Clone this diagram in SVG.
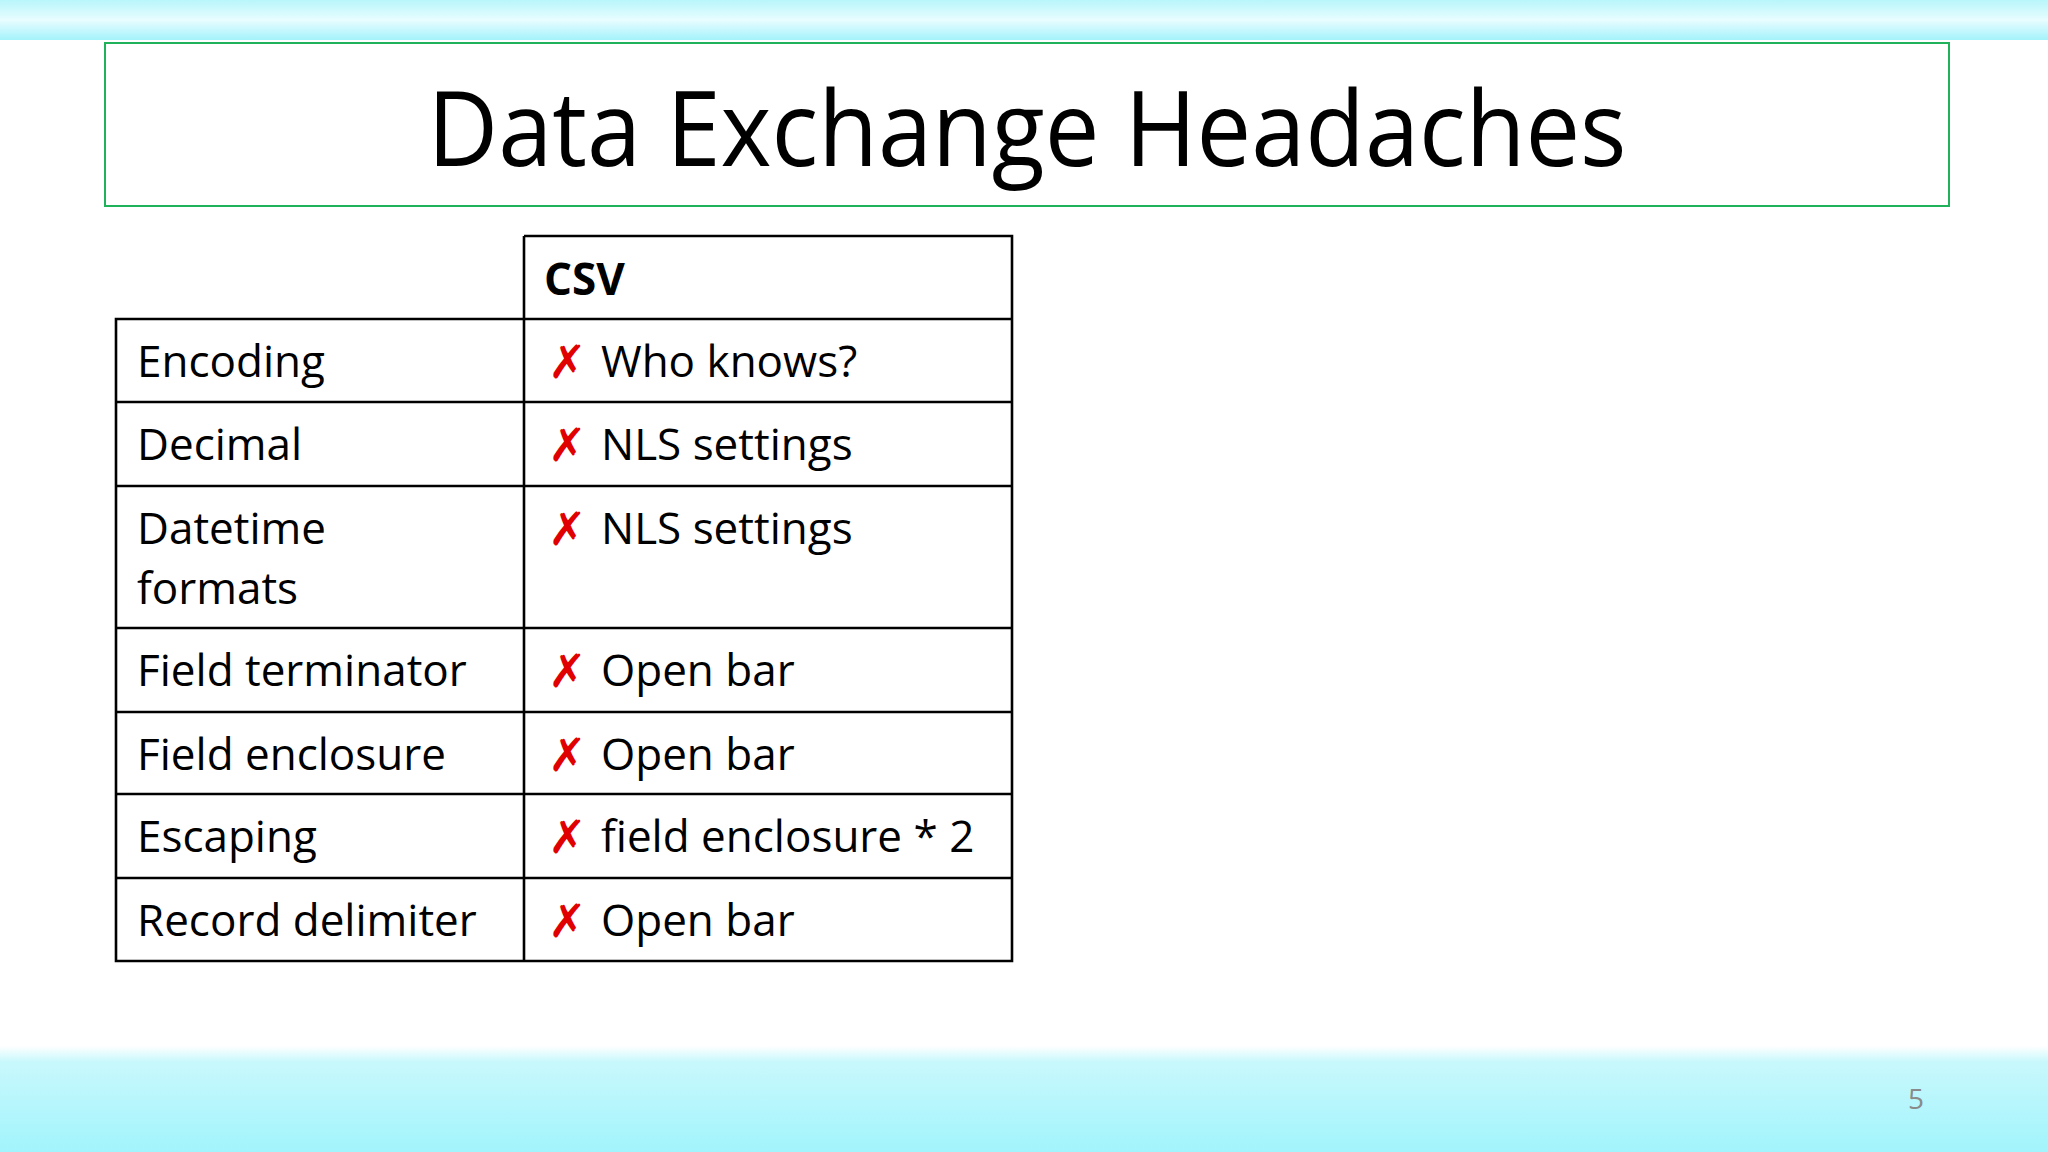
<svg xmlns="http://www.w3.org/2000/svg" width="2048" height="1152" viewBox="0 0 2048 1152">
<defs>
<linearGradient id="top" x1="0" y1="0" x2="0" y2="1"><stop offset="0" stop-color="#b8f6fb"/><stop offset="0.5" stop-color="#e8fdff"/><stop offset="1" stop-color="#a4f3fb"/></linearGradient>
<linearGradient id="bot" x1="0" y1="0" x2="0" y2="1"><stop offset="0" stop-color="#ffffff"/><stop offset="0.15" stop-color="#c8f8fc"/><stop offset="1" stop-color="#a2f4fc"/></linearGradient>
<style>
.t{font-family:"Open Sans","Liberation Sans",sans-serif;font-size:44px;fill:#000}
.x{font-family:"DejaVu Sans",sans-serif;font-size:46px;fill:#e00000;font-weight:300}
.l{stroke:#000;stroke-width:2.6;fill:none}
</style>
</defs>
<rect width="2048" height="1152" fill="#fff"/>
<rect width="2048" height="40" fill="url(#top)"/>
<rect y="1046" width="2048" height="106" fill="url(#bot)"/>
<g id="title">
<rect x="105" y="43" width="1844" height="163" fill="none" stroke="#1fb25a" stroke-width="2"/>
<text x="1027" y="166" text-anchor="middle" font-family="Open Sans, Liberation Sans, sans-serif" font-size="104" textLength="1199" lengthAdjust="spacingAndGlyphs">Data Exchange Headaches</text>
</g>
<g id="table">
<path class="l" d="M524 236H1012V961H116V319H1012M524 236V961M116 402H1012M116 486H1012M116 628H1012M116 712H1012M116 794H1012M116 878H1012"/>
<text class="t" x="544" y="295" font-weight="bold">CSV</text>
<g class="t">
<text x="137" y="377">Encoding</text>
<text x="137" y="460">Decimal</text>
<text x="137" y="544">Datetime</text>
<text x="137" y="604">formats</text>
<text x="137" y="686">Field terminator</text>
<text x="137" y="770">Field enclosure</text>
<text x="137" y="852">Escaping</text>
<text x="137" y="936">Record delimiter</text>
<text x="601" y="377">Who knows?</text>
<text x="601" y="460">NLS settings</text>
<text x="601" y="544">NLS settings</text>
<text x="601" y="686">Open bar</text>
<text x="601" y="770">Open bar</text>
<text x="601" y="852">field enclosure * 2</text>
<text x="601" y="936">Open bar</text>
</g>
<g class="x">
<text x="548" y="378">✗</text>
<text x="548" y="461">✗</text>
<text x="548" y="545">✗</text>
<text x="548" y="687">✗</text>
<text x="548" y="771">✗</text>
<text x="548" y="853">✗</text>
<text x="548" y="937">✗</text>
</g>
</g>
<text x="1908" y="1109" font-family="Open Sans, Liberation Sans, sans-serif" font-size="28" fill="#8a8a8a">5</text>
</svg>
